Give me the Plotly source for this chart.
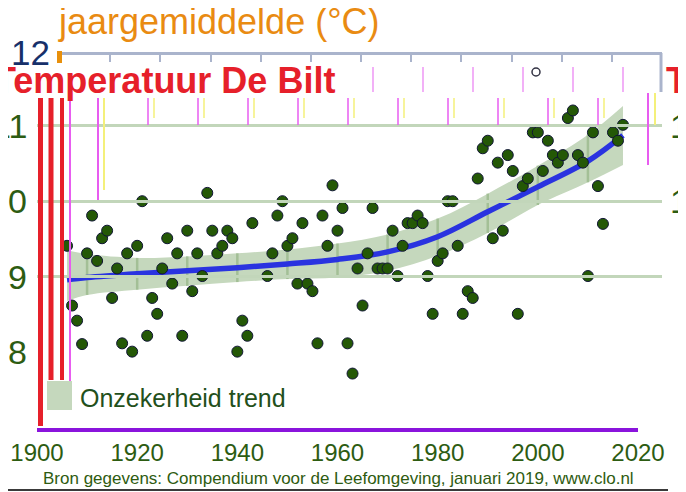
import plotly.graph_objects as go

# jaargemiddelde temperatuur De Bilt (°C)
jaren = list(range(1906, 1944)) + list(range(1946, 2014)) + [2015, 2016, 2017]
temperatuur = [
    9.41, 8.62, 8.42, 8.11, 9.31, 9.81, 9.21, 9.51, 9.61, 8.72,
    9.11, 8.12, 9.31, 8.01, 9.41, 10.00, 8.22, 8.72, 8.51, 9.11,
    9.51, 8.91, 9.31, 8.22, 9.61, 8.81, 9.31, 9.01, 10.11, 9.61,
    9.31, 9.41, 9.61, 9.51, 8.01, 8.42, 8.22, 9.71,
    9.01, 9.31, 9.81, 10.00, 9.41, 9.51, 8.91, 9.71, 8.91, 8.81,
    8.12, 9.81, 9.41, 10.21, 9.61, 9.91, 8.12, 7.72, 9.11, 8.62,
    9.31, 9.91, 9.11, 9.11, 9.11, 9.61, 9.01, 9.41, 9.71, 9.71,
    9.81, 9.71, 9.01, 8.51, 9.21, 9.31, 10.00, 10.00, 9.41, 8.51,
    8.81, 8.72, 10.30, 10.70, 10.80, 9.51, 10.51, 9.61, 10.61, 10.40,
    8.51, 10.20, 10.30, 10.91, 10.91, 10.40, 10.80, 10.61, 10.51, 10.61,
    11.10, 11.20, 10.61, 10.51, 9.01, 10.91, 10.20, 9.70,
    10.91, 10.80, 11.01,
]

# trend en onzekerheid
trend_jaren = [1906, 1910, 1920, 1930, 1940, 1950, 1960, 1970, 1980, 1990, 2000, 2010, 2017]
trend = [8.96, 8.99, 9.04, 9.08, 9.12, 9.17, 9.23, 9.33, 9.53, 9.86, 10.19, 10.53, 10.87]
trend_laag = [8.68, 8.76, 8.83, 8.88, 8.93, 8.97, 8.99, 9.08, 9.28, 9.58, 9.95, 10.25, 10.48]
trend_hoog = [9.35, 9.30, 9.25, 9.27, 9.31, 9.36, 9.44, 9.56, 9.77, 10.10, 10.47, 10.88, 11.26]

x_labels = [1900, 1920, 1940, 1960, 1980, 2000, 2020]
y_labels = [8, 9, 10, 11]

# pagina staat 8 px ingesprongen (body-marge); maten hieronder in vensterpixels
OFF = 8
W, H = 686 - OFF, 492 - OFF
L, R, T, B = 37 - OFF, 24, 50 - OFF, 64
PW, PH = W - L - R, H - T - B


def fx(p):
    return (p - OFF - L) / PW


def fy(p):
    return (H - B - (p - OFF)) / PH


GROEN_TEKST = '#2d5c12'
BAND = '#c5d8bd'

fig = go.Figure()

fig.add_trace(go.Scatter(x=trend_jaren, y=trend_laag, mode='lines', line=dict(width=0, shape='spline'),
                         hoverinfo='skip', showlegend=False))
fig.add_trace(go.Scatter(x=trend_jaren, y=trend_hoog, mode='lines', line=dict(width=0, shape='spline'),
                         fill='tonexty', fillcolor=BAND, hoverinfo='skip', showlegend=False))

# donkere streepjes in de band per decennium
dx, dy = [], []
for j, lo, hi in zip(trend_jaren, trend_laag, trend_hoog):
    if j % 10 == 0:
        dx += [j, j, None]
        dy += [lo, hi, None]
fig.add_trace(go.Scatter(x=dx, y=dy, mode='lines', line=dict(color='#a3bf96', width=2.5),
                         hoverinfo='skip', showlegend=False))

fig.add_trace(go.Scatter(x=trend_jaren, y=trend, mode='lines',
                         line=dict(color='#2a33e0', width=5.5, shape='spline'), showlegend=False))

fig.add_trace(go.Scatter(x=jaren, y=temperatuur, mode='markers',
                         marker=dict(size=11, color='#245806', line=dict(color='#101535', width=1)),
                         showlegend=False))

# onzichtbaar spoor voor de bovenste as
fig.add_trace(go.Scatter(x=[1900], y=[7], xaxis='x2', mode='markers', marker=dict(opacity=0),
                         hoverinfo='skip', showlegend=False))

shapes = []


def vlijn(x, y0, y1, kleur, w):
    shapes.append(dict(type='line', xref='paper', yref='paper', x0=fx(x), x1=fx(x),
                       y0=fy(y0), y1=fy(y1), line=dict(color=kleur, width=w), layer='above'))


# rode balken links
vlijn(40.5, 98, 426, '#e6202a', 5)
vlijn(51, 98, 380, '#e6202a', 5)
vlijn(62, 98, 380, '#e6202a', 4)
# storingslijntjes
vlijn(70, 98, 390, '#e85cf0', 2)
vlijn(98, 98, 200, '#e85cf0', 2)
vlijn(104, 98, 190, '#f4f07a', 2)
for k in range(10):
    vlijn(148 + 50 * k, 98, 125, '#e85cf0', 1.5)
    vlijn(154 + 50 * k, 98, 118, '#f4f07a', 1.5)
for k in range(6):
    vlijn(373 + 50 * k, 67, 92, '#ea7cf2', 1.2)
vlijn(648, 93, 165, '#e85cf0', 2)
vlijn(655, 93, 125, '#f4f07a', 2)

# einde bovenste as en oranje markering
vlijn(661, 53, 92, '#aab4cc', 3)
shapes.append(dict(type='rect', xref='paper', yref='paper', x0=fx(57), x1=fx(62), y0=fy(63), y1=fy(51),
                   fillcolor='#e8900c', line=dict(width=0), layer='above'))
shapes.append(dict(type='circle', xref='paper', yref='paper', x0=fx(532), x1=fx(540), y0=fy(76), y1=fy(68),
                   line=dict(color='#333344', width=1.5)))
# legendablok
shapes.append(dict(type='rect', xref='paper', yref='paper', x0=fx(47), x1=fx(72), y0=fy(410), y1=fy(381),
                   fillcolor=BAND, line=dict(width=0), layer='above'))
# onderrand
shapes.append(dict(type='line', xref='paper', yref='paper', x0=fx(OFF), x1=fx(668), y0=fy(490), y1=fy(490),
                   line=dict(color='#3a3a3a', width=2)))

annotations = []
for v in y_labels:
    annotations.append(dict(text=str(v), x=fx(29), xref='paper', y=v, yref='y', xanchor='right',
                            yanchor='middle', showarrow=False, font=dict(size=34, color=GROEN_TEKST)))
for v in [11, 10]:
    annotations.append(dict(text=str(v)[0], x=fx(668), xref='paper', y=v, yref='y', xanchor='left',
                            yanchor='middle', showarrow=False, font=dict(size=34, color=GROEN_TEKST)))
annotations.append(dict(text='12', x=fx(52), xref='paper', y=fy(53), yref='paper', xanchor='right',
                        yanchor='middle', showarrow=False, font=dict(size=35, color='#17306a')))
annotations.append(dict(text='jaargemiddelde (°C)', x=fx(56), xref='paper', y=fy(22), yref='paper',
                        xanchor='left', yanchor='middle', showarrow=False, font=dict(size=36, color='#e98b12')))
annotations.append(dict(text='<b>Temperatuur De Bilt</b>', x=fx(-8), xref='paper', y=fy(80), yref='paper',
                        xanchor='left', yanchor='middle', showarrow=False, font=dict(size=36, color='#e6202a')))
annotations.append(dict(text='<b>T</b>', x=fx(664), xref='paper', y=fy(80), yref='paper',
                        xanchor='left', yanchor='middle', showarrow=False, font=dict(size=36, color='#e6202a')))
annotations.append(dict(text='Onzekerheid trend', x=fx(78), xref='paper', y=fy(398), yref='paper',
                        xanchor='left', yanchor='middle', showarrow=False, font=dict(size=25, color='#23501b')))
annotations.append(dict(text='Bron gegevens: Compendium voor de Leefomgeving, januari 2019, www.clo.nl',
                        x=fx(338), xref='paper', y=fy(478), yref='paper', xanchor='center', yanchor='middle',
                        showarrow=False, font=dict(size=17, color='#2e5b10')))

fig.update_layout(
    template='none',
    width=W, height=H,
    margin=dict(l=L, r=R, t=T, b=B, pad=0),
    paper_bgcolor='white', plot_bgcolor='rgba(0,0,0,0)',
    font=dict(family='Liberation Sans, Arial, sans-serif'),
    showlegend=False,
    xaxis=dict(domain=[0, 601 / PW], range=[1900, 2020], tickvals=x_labels,
               tickfont=dict(size=24, color=GROEN_TEKST), showgrid=False, zeroline=False,
               showline=True, linecolor='#8a14dc', linewidth=4, ticks='', automargin=False),
    xaxis2=dict(domain=[23 / PW, 1], range=[1900, 2020], anchor='free', position=fy(53), side='top',
                showline=True, linecolor='#aab4cc', linewidth=3, ticks='inside', ticklen=7, tickwidth=2,
                tickcolor='#aab4cc', tick0=1900, dtick=10, showticklabels=False, showgrid=False,
                zeroline=False, automargin=False),
    yaxis=dict(range=[7, 12], tickvals=[9, 10, 11], showticklabels=False, showgrid=True,
               gridcolor='#c2d6ba', gridwidth=3, zeroline=False, showline=False, ticks='', automargin=False),
    shapes=shapes,
    annotations=annotations,
)

fig.write_html("out.html")
